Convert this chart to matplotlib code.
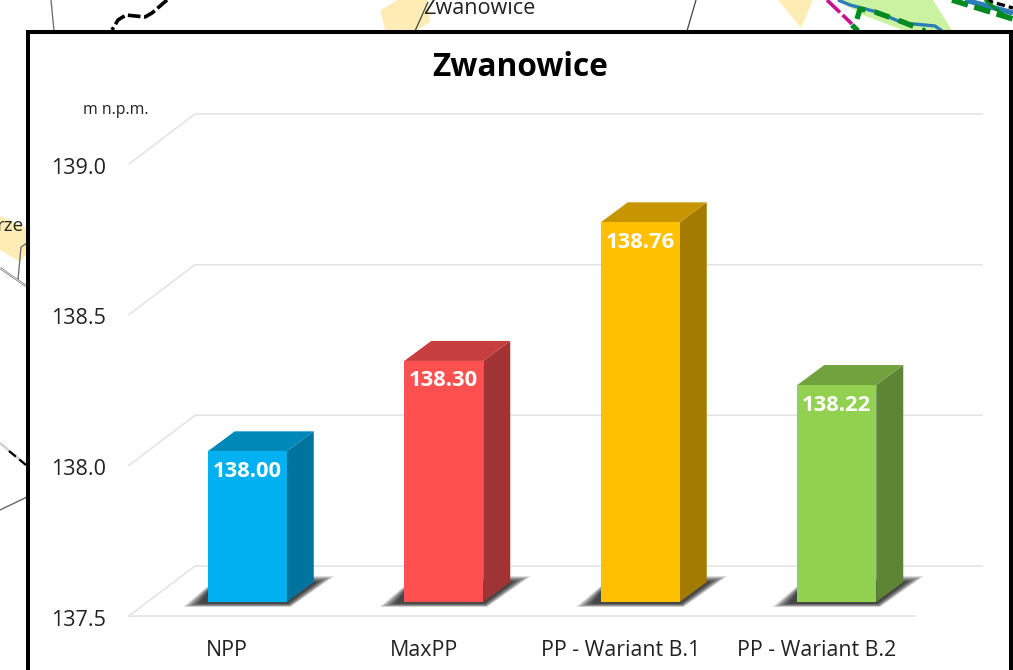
import matplotlib
matplotlib.use("Agg")
import matplotlib.pyplot as plt
from matplotlib.patches import Polygon, Rectangle
from matplotlib.transforms import Affine2D

# ---- data ----
categories = ["NPP", "MaxPP", "PP - Wariant B.1", "PP - Wariant B.2"]
values = [138.00, 138.30, 138.76, 138.22]
y_ticks = [137.5, 138.0, 138.5, 139.0]
y_tick_labels = ["137.5", "138.0", "138.5", "139.0"]
title = "Zwanowice"
unit = "m n.p.m."

# ---- style ----
front_colors = ["#00B0F0", "#FF5050", "#FFC000", "#92D050"]
top_colors = ["#0088B8", "#C63E3E", "#C69500", "#72A23E"]
side_colors = ["#00749E", "#A03333", "#A27B00", "#5E8533"]
GRID = "#E2E2E2"
TXT = "#222222"
W, H = 1013, 670
plt.rcParams["font.family"] = ["Open Sans", "DejaVu Sans"]
fig = plt.figure(figsize=(W / 100, H / 100), dpi=100, facecolor="white")

# ---- background map fragments + frame (pixel coordinates) ----
bg = fig.add_axes([0, 0, 1, 1], zorder=0)
bg.set_xlim(0, W)
bg.set_ylim(H, 0)
bg.axis("off")
YEL = "#FDEDB5"
LG = "#CBF2A0"
for pts, c in [
    ([(397, 0), (380, 11), (386, 32), (415, 32), (430, 22), (428, 0)], YEL),
    ([(778, 0), (813, 0), (801, 28)], YEL),
    ([(0, 216), (27, 228), (27, 253), (20, 262), (0, 250)], YEL),
    ([(837, 0), (933, 0), (953, 32), (908, 32), (863, 15)], LG),
]:
    bg.add_patch(Polygon(pts, closed=True, fc=c, ec="none"))
GR = "#666666"
for xs, ys, c, lw, ls in [
    ([51, 54], [0, 31], GR, 0.9, "-"),
    ([415, 428], [31, 2], "#444444", 0.9, "-"),
    ([687, 696], [31, 0], "#444444", 0.9, "-"),
    ([0, 27], [510, 497], GR, 1.0, "-"),
    ([18, 21, 27], [280, 247, 243], GR, 0.9, "-"),
    ([0, 26], [268, 286], GR, 1.5, "-"),
    ([0, 26], [268, 286], "white", 0.6, "-"),
    ([0, 26], [443, 465], "#999999", 1.4, "-"),
    ([0, 26], [443, 465], "white", 0.6, "-"),
    ([9, 26], [451, 465], "black", 1.6, (0, (4, 2))),
    ([167, 152, 145, 126, 118, 112], [0, 13, 17, 15, 20, 30], "black", 2.6, (0, (3.5, 1.0))),
    ([827, 852], [0, 24], "#C8108C", 2.6, (0, (5, 1.0))),
    ([852, 858], [25, 31], "#008A20", 3.8, "-"),
    ([838, 850, 877, 903, 935, 942], [0, 5, 12, 23, 26, 31], "#2B7DB8", 2.4, "-"),
    ([857, 860, 875, 903, 925], [19, 9, 12, 22, 31], "#008A20", 3.8, (0, (3, 1.8))),
    ([965, 1013], [0, 13], "#2B7DB8", 3.8, "-"),
    ([952, 1013], [0, 19], "#008A20", 4.0, (0, (3, 1.2))),
    ([985, 1013], [0, 8], "black", 2.4, (0, (2.5, 1.2))),
    ([985, 1006], [0, 17], "#008A20", 2.2, "-"),
]:
    bg.plot(xs, ys, color=c, lw=lw, ls=ls, solid_capstyle="butt", dash_capstyle="butt")
bg.text(479, 9, "Zwanowice", ha="center", va="center", fontsize=15.6, color=TXT)
bg.text(23.5, 226, "rze", ha="right", va="center", fontsize=13.6, color=TXT)
bg.add_patch(Rectangle((28, 31.5), 983, 700, fc="white", ec="black", lw=2.9, zorder=5))

# ---- chart axes: the front plane of the 3D box ----
L, R, T, B = 129, 915, 164, 616
ax = fig.add_axes([L / W, 1 - B / H, (R - L) / W, (B - T) / H], zorder=2)
ax.patch.set_alpha(0)
ax.set_xlim(-0.5, 3.5)
ax.set_ylim(y_ticks[0], y_ticks[-1])
for s in ax.spines.values():
    s.set_visible(False)
ax.set_xticks(range(len(categories)))
ax.set_xticklabels(categories, fontsize=15.4, color=TXT)
ax.set_yticks(y_ticks)
ax.set_yticklabels(y_tick_labels, fontsize=15.5, color=TXT)
ax.tick_params(axis="x", length=0, pad=17)
ax.tick_params(axis="y", length=0, pad=16.5)
for lab in ax.get_yticklabels():
    lab.set_transform(lab.get_transform() + Affine2D().translate(0, -1.5))
ax.set_title(title, fontsize=22.8, fontweight="bold", color="black", pad=63.5, x=0.4975)
fig.text(116 / W, 1 - 110 / H, unit, ha="center", va="center", fontsize=11.4, color=TXT)

PX = len(categories) / (R - L)             # data units per pixel, x
PY = (y_ticks[-1] - y_ticks[0]) / (B - T)  # data units per pixel, y

# gridlines: side wall then back wall; floor gets its own front edge
x0 = -0.5
for t in y_ticks:
    ax.plot([x0, x0 + 66 * PX, x0 + 853 * PX],
            [t, t + 50 * PY, t + 50 * PY],
            color=GRID, lw=1.1, clip_on=False, zorder=1, solid_joinstyle="miter")
ax.plot([x0, 3.5], [y_ticks[0]] * 2, color=GRID, lw=1.1, clip_on=False, zorder=1)

# bars stand 20 px right of and 14 px above the front plane
off = ax.transData + Affine2D().translate(20, 14)
BAR_PX = 79
bw = BAR_PX * PX
dx, dy = 27 * PX, 20 * PY
base = y_ticks[0]
LEVELS = 16
for i, v in enumerate(values):
    xl, xr = i - bw / 2, i + bw / 2
    # soft shadow on the floor: stacked translucent layers from core to outline
    outer = [(xl - 25 * PX, base - 5 * PY), (xr + 4 * PX, base - 5 * PY),
             (xr + 48 * PX, base + 26 * PY), (xr + 20 * PX, base + 26 * PY),
             (xl, base + 16 * PY)]
    core = [(xl - 8 * PX, base - 1.5 * PY), (xr + 1 * PX, base - 1.5 * PY),
            (xr + 30 * PX, base + 20 * PY), (xr + 12 * PX, base + 20 * PY),
            (xl, base + 10 * PY)]
    for k in range(LEVELS):
        t = k / (LEVELS - 1)
        pts = [(c[0] + t * (o[0] - c[0]), c[1] + t * (o[1] - c[1])) for c, o in zip(core, outer)]
        ax.add_patch(Polygon(pts, closed=True, fc="black", ec="none", alpha=.075,
                             transform=off, clip_on=False, zorder=2))
    # right side and top faces
    ax.add_patch(Polygon([(xr, base), (xr + dx, base + dy), (xr + dx, v + dy), (xr, v)],
                         closed=True, fc=side_colors[i], ec="none", transform=off,
                         clip_on=False, zorder=3))
    ax.add_patch(Polygon([(xl, v), (xr, v), (xr + dx, v + dy), (xl + dx, v + dy)],
                         closed=True, fc=top_colors[i], ec="none", transform=off,
                         clip_on=False, zorder=3))
    ax.bar(i, v - base, bottom=base, width=bw, color=front_colors[i], transform=off,
           clip_on=False, zorder=4)
    ax.text(i, v - 20 * PY, f"{v:.2f}", ha="center", va="center", color="white",
            fontsize=15.8, fontweight="bold", transform=off, zorder=5, clip_on=False)

fig.savefig("out.png", dpi=100, facecolor="white")
